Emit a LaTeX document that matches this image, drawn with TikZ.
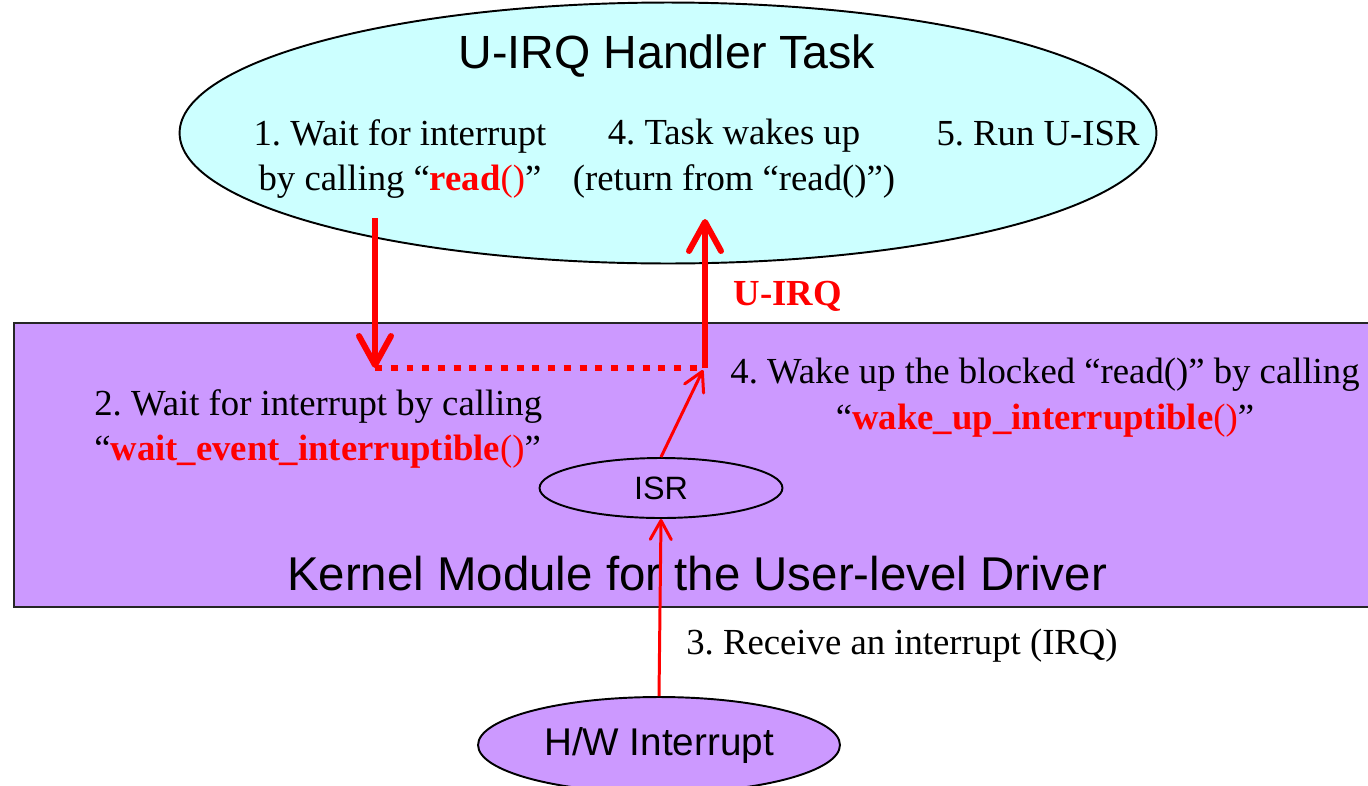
\documentclass[tikz,border=0pt]{standalone}
\usepackage{fontspec}
\setmainfont{Liberation Serif}
\setsansfont{Liberation Sans}
\usepackage{xcolor}
\usetikzlibrary{shapes.geometric, arrows.meta, positioning}
\definecolor{taskcyan}{HTML}{CCFFFF}
\definecolor{modpurple}{HTML}{CC99FF}
\newcommand{\callfn}[1]{\textcolor{red}{\textbf{#1}()}}
\frenchspacing

\begin{document}
\begin{tikzpicture}[
    x=0.02cm, y=-0.02cm,
    task/.style={ellipse, draw=black, line width=1.1pt, fill=taskcyan, minimum width=19.54cm, minimum height=5.22cm, inner sep=0pt},
    module/.style={rectangle, draw=black!85, line width=1.1pt, fill=modpurple, minimum width=27.4cm, minimum height=5.68cm, inner sep=0pt},
    isr/.style={ellipse, draw=black, line width=1.1pt, fill=modpurple, inner sep=0pt, font=\sffamily\fontsize{18.4}{22}\selectfont},
    title/.style={font=\sffamily\fontsize{26.5}{30}\selectfont, inner sep=0pt},
    stepnote/.style={font=\fontsize{20.9}{26}\selectfont, align=center, inner sep=0pt},
    bigarrow/.style={red, line width=3.4pt, -{Straight Barb[length=5.8mm, width=6.4mm, round]}},
    thinarrow/.style={red, line width=1.7pt, -{Straight Barb[length=3.8mm, width=4.2mm, round]}}
]
\useasboundingbox (0,0) rectangle (1368,785);

% Nodes
\node (task) [task] at (668,133) {};
\node (kmod) [module] at (699,465) {};
\node (isr) [isr, minimum width=4.86cm, minimum height=1.2cm] at (661,488) {ISR};
\node (hw) [isr, minimum width=7.24cm, minimum height=1.92cm, font=\sffamily\fontsize{22}{26}\selectfont] at (659,745) {H/W Interrupt};

\node (tasktitle) [title] at (667,56) {U-IRQ Handler Task};
\node (kmodtitle) [title, font=\sffamily\fontsize{27}{30}\selectfont] at (697,574) {Kernel Module for the User-level Driver};

\node (step1) [stepnote] at (400,159) {1. Wait for interrupt\\by calling ``\callfn{read}''};
\node (step4t) [stepnote] at (734,159) {4. Task wakes up\\(return from ``read()'')};
\node (step5) [stepnote] at (1038,134) {5. Run U-ISR};
\node (step2) [stepnote, align=left, anchor=west] at (94,429) {2. Wait for interrupt by calling\\``\callfn{wait\_event\_interruptible}''};
\node (step4k) [stepnote] at (1045,398) {4. Wake up the blocked ``read()'' by calling\\``\callfn{wake\_up\_interruptible}''};
\node (step3) [stepnote, anchor=west] at (686,646) {3. Receive an interrupt (IRQ)};
\node (uirq) [stepnote, text=red, font=\bfseries\fontsize{20.9}{26}\selectfont] at (788,296) {U-IRQ};

\coordinate (readcall) at (375,218);
\coordinate (blocked) at (375,368);
\coordinate (woken) at (705,368);
\coordinate (taskback) at (705,219);
\coordinate (wakehit) at (703,370);

% Edges
\draw [bigarrow] (readcall) -- (blocked);
\draw [red, line width=3.4pt, dash pattern=on 1.4mm off 1.75mm] (blocked) -- (woken);
\draw [bigarrow] (woken) -- (taskback);
\draw [thinarrow] (isr.north) -- (wakehit);
\draw [thinarrow] (hw.north) -- (isr.south);

\end{tikzpicture}
\end{document}
